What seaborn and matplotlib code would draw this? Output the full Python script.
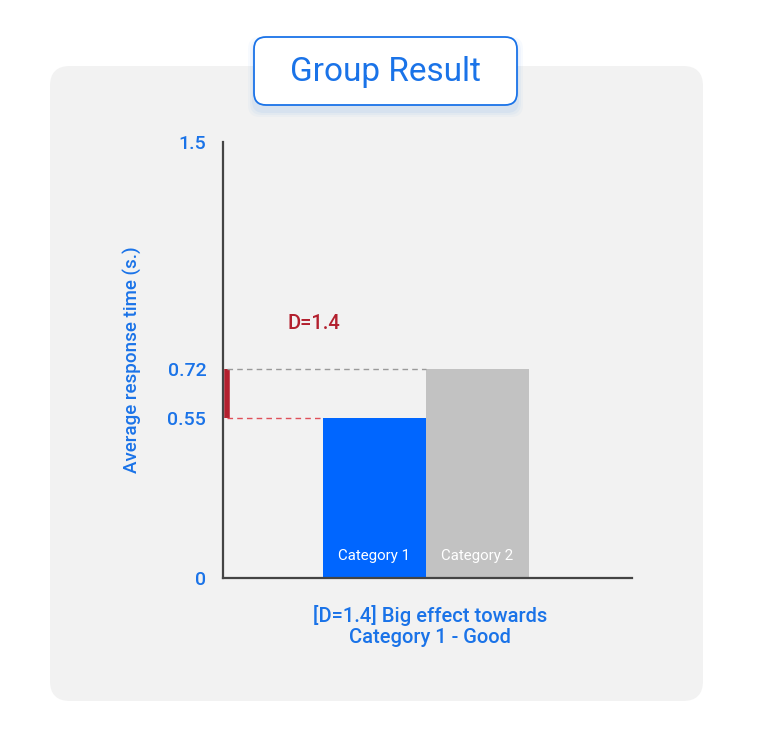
import matplotlib
matplotlib.use("Agg")
import matplotlib.pyplot as plt
from matplotlib.patches import FancyBboxPatch
import seaborn as sns
import pandas as pd

# data
categories = ["Category 1", "Category 2"]
response_times = [0.55, 0.72]
bar_colors = ["#0066ff", "#c2c2c2"]
y_ticks = [0, 0.55, 0.72, 1.5]
y_tick_labels = ["0", "0.55", "0.72", "1.5"]
effect_label = "D=1.4"
summary = "[D=1.4] Big effect towards\nCategory 1 - Good"

BLUE_TEXT = "#1a73e8"
RED = "#b3202e"

sns.set_theme(style="white")
plt.rcParams["font.family"] = ["Roboto", "DejaVu Sans"]

W, H = 765, 751
fig = plt.figure(figsize=(W / 100, H / 100), dpi=100)
fig.patch.set_facecolor("white")

# background layer in pixel coords
bg = fig.add_axes([0, 0, 1, 1])
bg.set_xlim(0, W)
bg.set_ylim(H, 0)
bg.axis("off")
bg.add_patch(FancyBboxPatch((50 + 20, 66 + 20), 653 - 40, 635 - 40,
                            boxstyle="round,pad=20", fc="#f2f2f2", ec="none"))
# soft shadow under the title box
for i, a in enumerate([0.05, 0.04, 0.03]):
    d = 2 + i * 2
    bg.add_patch(FancyBboxPatch((254 + 12 - d, 40 + 12 - d + 3), 263 - 24 + 2 * d, 68 - 24 + 2 * d,
                                boxstyle="round,pad=12", fc="#1a73e8", ec="none", alpha=a))
bg.add_patch(FancyBboxPatch((254 + 12, 37 + 12), 263 - 24, 68 - 24,
                            boxstyle="round,pad=12", fc="white", ec=BLUE_TEXT, lw=1.3))
bg.text(385.5, 72, "Group Result", ha="center", va="center", fontsize=24, color=BLUE_TEXT)

# main chart
ax = fig.add_axes([223 / W, (H - 578) / H, 409 / W, 436 / H])
ax.set_facecolor("none")
df = pd.DataFrame({"category": categories, "time": response_times})
sns.barplot(data=df, x="category", y="time", hue="category", palette=bar_colors,
            width=1.0, saturation=1, legend=False, linewidth=0, ax=ax)
ax.set_xlim(-1.47, 2.5)
ax.set_ylim(0, 1.5)

for sp in ["top", "right"]:
    ax.spines[sp].set_visible(False)
for sp in ["left", "bottom"]:
    ax.spines[sp].set_color("#444444")
    ax.spines[sp].set_linewidth(1.6)

ax.set_xticks([])
ax.set_xlabel("")
ax.set_yticks(y_ticks)
ax.set_yticklabels(y_tick_labels, fontweight="medium")
ax.tick_params(axis="y", length=0, pad=12, labelsize=14, labelcolor=BLUE_TEXT)
ax.set_ylabel("Average response time (s.)", color=BLUE_TEXT, fontsize=13.5,
              fontweight="medium", labelpad=18)

for i, c in enumerate(categories):
    ax.text(i, 0.076, c, ha="center", va="center", color="white", fontsize=10.8)

# effect marker
lo, hi = min(response_times), max(response_times)
ax.plot([-1.43, -1.43], [lo, hi], color=RED, lw=4, solid_capstyle="butt", clip_on=False)
ax.plot([-1.43, 1 - 0.5], [hi, hi], color="#9a9a9a", lw=1, ls=(0, (4, 3)))
ax.plot([-1.43, 0 - 0.5], [lo, lo], color="#e0505a", lw=1, ls=(0, (4, 3)))
ax.text(-0.84, 0.875, effect_label, ha="left", va="center", color=RED,
        fontsize=14.5, fontweight="medium")

fig.text(430 / W, 1 - 626 / H, summary, ha="center", va="center", color=BLUE_TEXT,
         fontsize=14.5, fontweight="medium", linespacing=1.15)

plt.savefig("out.png", dpi=100)
